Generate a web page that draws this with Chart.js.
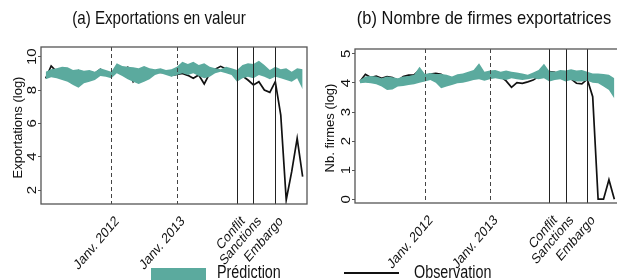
<!DOCTYPE html>
<html>
<head>
<meta charset="utf-8">
<script src="https://cdn.jsdelivr.net/npm/chart.js@4"></script>
<style>
  body { margin: 0; background: #fff; }
  #wrap { position: relative; width: 617px; height: 280px; overflow: hidden;
          font-family: 'Liberation Sans', Arial, sans-serif; color: #111; }
  .panel { position: absolute; top: 0; height: 280px; }
  .titre { position: absolute; top: 9px; font-size: 18.5px; line-height: 1; white-space: nowrap;
           transform: translateX(-50%) scaleX(0.82); }
  .leg { position: absolute; font-size: 17.5px; line-height: 1; white-space: nowrap;
         transform: scaleX(0.82); transform-origin: 0 0; }
</style>
</head>
<body>
<div id="wrap">
  <div class="panel" style="left:0;width:310px"><canvas id="valeur"></canvas></div>
  <div class="panel" style="left:310px;width:312px"><canvas id="firmes"></canvas></div>
  <div class="titre" style="left:159px">(a) Exportations en valeur</div>
  <div class="titre" style="left:484px;transform:translateX(-50%) scaleX(0.89)">(b) Nombre de firmes exportatrices</div>
  <div style="position:absolute;left:151px;top:268px;width:55px;height:12px;background:#5baa9e"></div>
  <div class="leg" style="left:217px;top:264px">Prédiction</div>
  <div style="position:absolute;left:344px;top:272px;width:55px;height:2px;background:#111"></div>
  <div class="leg" style="left:414px;top:264px">Observation</div>
</div>
<script>
// mois : janv. 2011 -> déc. 2014 (index 0..47)
const xTickVals = [12, 24, 35, 38, 42];
const xTickLabels = ['Janv. 2012', 'Janv. 2013', 'Conflit', 'Sanctions', 'Embargo'];
const datesPointillees = [12, 24];
const evenements = [35, 38, 42];

// (a) exportations en valeur (log)
const obsValeur = [8.7, 9.44, 9.1, 9.24, 9.16, 8.9, 9.16, 8.8, 9.06, 9.0, 9.24, 9.04,
  9.0, 9.32, 9.16, 9.36, 8.5, 8.8, 8.8, 8.8, 9.08, 9.06, 9.06, 8.88,
  8.94, 9.0, 8.88, 8.7, 8.9, 8.36, 9.0, 9.24, 9.42, 9.26, 9.2, 9.0,
  8.84, 8.6, 8.3, 8.5, 8.0, 7.86, 8.5, 6.5, 1.4, 3.1, 5.1, 2.8];
const hautValeur = [9.1, 9.24, 9.3, 9.4, 9.36, 9.2, 9.24, 9.16, 9.2, 9.1, 9.3, 9.2,
  9.1, 9.6, 9.44, 9.4, 9.36, 9.3, 9.44, 9.3, 9.24, 9.3, 9.2, 9.24,
  9.4, 9.7, 9.56, 9.7, 9.5, 9.6, 9.4, 9.3, 9.24, 9.4, 9.3, 9.2,
  9.5, 9.6, 9.56, 9.76, 9.5, 9.2, 9.4, 9.24, 9.3, 9.1, 9.3, 9.24];
const basValeur = [8.64, 8.76, 8.7, 8.6, 8.5, 8.3, 8.14, 8.4, 8.5, 8.6, 8.84, 8.8,
  8.7, 9.0, 8.84, 8.64, 8.5, 8.36, 8.5, 8.64, 8.9, 9.0, 8.9, 8.8,
  8.9, 9.0, 8.9, 9.0, 8.84, 8.7, 8.8, 9.0, 9.1, 9.0, 8.9, 8.5,
  8.7, 8.8, 8.7, 8.9, 8.8, 8.64, 8.8, 8.7, 8.6, 8.5, 8.7, 8.04];
const yTicksValeur = [2, 4, 6, 8, 10];

// (b) nombre de firmes exportatrices (log)
const obsFirmes = [4.05, 4.3, 4.19, 4.24, 4.16, 4.22, 4.19, 4.08, 4.22, 4.27, 4.28, 4.45,
  4.24, 4.31, 4.33, 4.3, 4.16, 4.1, 4.16, 4.13, 4.13, 4.16, 4.33, 4.16,
  4.28, 4.2, 4.22, 4.07, 3.85, 4.01, 3.99, 4.04, 4.1, 4.22, 4.24, 4.39,
  4.37, 4.24, 4.13, 4.14, 3.99, 3.97, 4.13, 3.53, 0, 0, 0.67, 0];
const hautFirmes = [4.1, 4.22, 4.24, 4.22, 4.16, 4.22, 4.2, 4.16, 4.22, 4.24, 4.28, 4.56,
  4.31, 4.34, 4.31, 4.31, 4.28, 4.22, 4.3, 4.33, 4.39, 4.45, 4.68, 4.39,
  4.43, 4.45, 4.39, 4.43, 4.39, 4.36, 4.33, 4.28, 4.36, 4.45, 4.66, 4.4,
  4.39, 4.45, 4.43, 4.47, 4.43, 4.45, 4.39, 4.33, 4.33, 4.31, 4.28, 4.16];
const basFirmes = [3.99, 4.01, 3.99, 3.96, 3.88, 3.76, 3.78, 3.88, 3.9, 3.93, 3.96, 4.01,
  4.05, 4.1, 4.01, 3.82, 3.88, 3.93, 3.99, 4.01, 4.05, 4.1, 4.13, 4.08,
  4.13, 4.16, 4.13, 4.1, 4.16, 4.13, 4.1, 4.13, 4.16, 4.13, 4.16, 4.05,
  4.1, 4.13, 4.05, 4.1, 4.05, 4.05, 4.08, 4.01, 3.99, 3.88, 3.76, 3.47];
const yTicksFirmes = [0, 1, 2, 3, 4, 5];

const POLICE = "'Liberation Sans', Arial, sans-serif";
const TEAL = '#5baa9e';
const SERRE = 0.82; // texte un peu condensé comme dans la figure d'origine

const pts = arr => arr.map((v, i) => ({ x: i, y: v }));

function texte(ctx, str, x, y, angle, size, align, serre) {
  ctx.save();
  ctx.translate(x, y);
  ctx.scale(serre, 1);
  ctx.rotate(angle);
  ctx.font = size + 'px ' + POLICE;
  ctx.textAlign = align;
  ctx.textBaseline = 'middle';
  ctx.fillText(str, 0, 0);
  ctx.restore();
}

// cadre, lignes verticales, étiquettes des axes
const decor = {
  id: 'decor',
  afterDatasetsDraw(chart, args, opts) {
    const { ctx, chartArea: a, scales: { x, y } } = chart;
    ctx.save();
    ctx.lineWidth = 1;
    ctx.strokeStyle = '#444';
    ctx.setLineDash([4, 3]);
    datesPointillees.forEach(v => {
      const px = Math.round(x.getPixelForValue(v)) + 0.5;
      ctx.beginPath(); ctx.moveTo(px, a.top); ctx.lineTo(px, a.bottom); ctx.stroke();
    });
    ctx.setLineDash([]);
    ctx.strokeStyle = '#222';
    evenements.forEach(v => {
      const px = Math.round(x.getPixelForValue(v)) + 0.5;
      ctx.beginPath(); ctx.moveTo(px, a.top); ctx.lineTo(px, a.bottom); ctx.stroke();
    });
    ctx.strokeStyle = '#555';
    ctx.lineWidth = 1.3;
    ctx.strokeRect(a.left, a.top, a.right - a.left, a.bottom - a.top);

    ctx.fillStyle = '#111';
    opts.ticks.forEach(v => texte(ctx, String(v), a.left - 8, y.getPixelForValue(v), -Math.PI / 2, 15, 'center', SERRE));
    xTickVals.forEach((v, i) =>
      texte(ctx, xTickLabels[i], x.getPixelForValue(v) + 6, a.bottom + 15, -44 * Math.PI / 180, 14.5, 'right', SERRE));
    texte(ctx, opts.titre, opts.titreX, (a.top + a.bottom) / 2 + 2, -Math.PI / 2, 13, 'center', 1);
    ctx.restore();
  }
};

function panneau(id, obs, bas, haut, yTicks, yMin, yMax, yTitre, cfg) {
  new Chart(document.getElementById(id), {
    type: 'line',
    data: {
      datasets: [
        { data: pts(haut), fill: '+1', backgroundColor: TEAL, borderColor: 'rgba(0,0,0,0)', pointRadius: 0, tension: 0 },
        { data: pts(bas), fill: false, borderColor: 'rgba(0,0,0,0)', pointRadius: 0, tension: 0 },
        { data: pts(obs), fill: false, borderColor: '#111', borderWidth: 1.7, pointRadius: 0, tension: 0 }
      ]
    },
    options: {
      responsive: true,
      maintainAspectRatio: false,
      animation: false,
      layout: { padding: { top: cfg.top, right: cfg.right, left: 0, bottom: 0 } },
      plugins: {
        legend: { display: false }, tooltip: { enabled: false },
        decor: { ticks: yTicks, titre: yTitre, titreX: cfg.titreX }
      },
      scales: {
        x: {
          type: 'linear', min: cfg.xMin, max: cfg.xMax,
          grid: { display: false }, border: { display: false },
          afterBuildTicks: s => { s.ticks = xTickVals.map(v => ({ value: v })); },
          afterFit: s => { s.height = cfg.xHeight; },
          ticks: { display: false }
        },
        y: {
          min: yMin, max: yMax,
          border: { display: false },
          grid: { drawOnChartArea: false, drawTicks: true, tickLength: 3, color: '#555' },
          afterBuildTicks: s => { s.ticks = yTicks.map(v => ({ value: v })); },
          afterFit: s => { s.width = cfg.yWidth; },
          ticks: { display: false }
        }
      }
    },
    plugins: [decor]
  });
}

panneau('valeur', obsValeur, basValeur, hautValeur, yTicksValeur, 1.16, 10.58, 'Exportations (log)',
  { top: 47, right: 3, xHeight: 76, yWidth: 41, titreX: 18, xMin: -0.86, xMax: 47.8 });
panneau('firmes', obsFirmes, basFirmes, hautFirmes, yTicksFirmes, -0.13, 5.17, 'Nb. firmes (log)',
  { top: 49, right: 3, xHeight: 77, yWidth: 45, titreX: 20, xMin: -0.92, xMax: 47.86 });
</script>
</body>
</html>
